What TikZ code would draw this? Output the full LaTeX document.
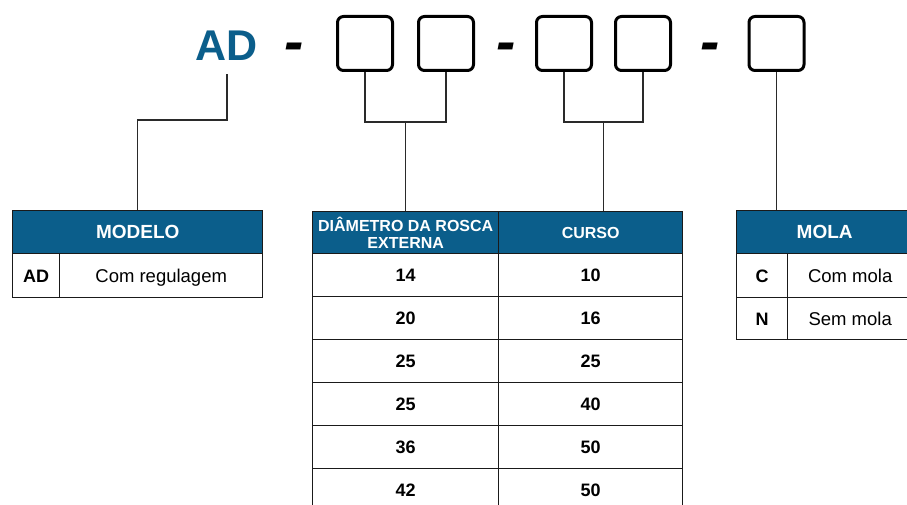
\documentclass[tikz,border=0pt]{standalone}
\usepackage{fontspec}
\setmainfont{Liberation Sans}
\usetikzlibrary{calc}
\definecolor{hblue}{HTML}{0B5E8B}
\definecolor{tline}{HTML}{1A1A1A}
\definecolor{cline}{HTML}{2A2A2A}
\tikzset{
  codebox/.style={draw=black, line width=3pt, rounded corners=6pt, minimum width=55pt, minimum height=54pt, inner sep=0},
  sep/.style={font=\fontsize{58}{58}\selectfont\bfseries\itshape, anchor=base, inner sep=0},
  conn/.style={draw=cline, line width=1.3pt},
  hcell/.style={draw=tline, line width=1.4pt, fill=hblue, text=white, anchor=north west, inner sep=0, font=\fontsize{19}{19}\selectfont\bfseries, align=center},
  bcell/.style={draw=tline, line width=1.4pt, fill=white, text=black, anchor=north west, inner sep=0, text height=13.4pt, text depth=0pt, font=\fontsize{18.5}{18.5}\selectfont},
  ncell/.style={bcell, text height=12.9pt, font=\fontsize{18}{18}\selectfont\bfseries}
}
\begin{document}
\begin{tikzpicture}[x=1pt,y=-1pt]
\clip (0,0) rectangle (907,505);
\fill[white] (0,0) rectangle (907,505);
% code line
\node[font=\fontsize{43}{43}\selectfont\bfseries, text=hblue, anchor=base, inner xsep=0, inner ysep=13pt] (ad) at (227,61) {AD};
\node[sep] (d1) at (294,62) {-};
\node[sep] (d2) at (506,62) {-};
\node[sep] (d3) at (710,62) {-};
\node[codebox] (b1) at (365,43.5) {};
\node[codebox] (b2) at (446,43.5) {};
\node[codebox] (b3) at (564,43.5) {};
\node[codebox] (b4) at (643,43.5) {};
\node[codebox] (b5) at (776.5,43.5) {};
\coordinate (j0) at (0,120);
\coordinate (j1) at (0,122);
% MODELO table
\node[hcell, minimum width=250pt, minimum height=43pt] (mh) at (12,210) {MODELO};
\node[ncell, minimum width=47pt, minimum height=44pt] (ma) at (12,253) {AD};
\node[bcell, minimum width=203pt, minimum height=44pt] (mb) at (59,253) {Com regulagem};
% middle table
\node[hcell, minimum width=186pt, minimum height=42pt, font=\fontsize{16}{16.5}\selectfont\bfseries] (dh) at (312,211) {DIÂMETRO DA ROSCA\\EXTERNA};
\node[hcell, minimum width=184pt, minimum height=42pt, font=\fontsize{16}{16.5}\selectfont\bfseries] (cu) at (498,211) {CURSO};
\foreach \a/\b [count=\i from 0] in {14/10,20/16,25/25,25/40,36/50,42/50} {
  \node[ncell, minimum width=186pt, minimum height=43pt] (r\i a) at (312,{253+43*\i}) {\a};
  \node[ncell, minimum width=184pt, minimum height=43pt] (r\i b) at (498,{253+43*\i}) {\b};
}
% MOLA table
\node[hcell, minimum width=176pt, minimum height=43pt] (lh) at (736,210) {MOLA};
\node[ncell, minimum width=51pt, minimum height=44pt] (la) at (736,253) {C};
\node[bcell, minimum width=125pt, minimum height=44pt] (lb) at (787,253) {Com mola};
\node[ncell, minimum width=51pt, minimum height=42pt] (lc) at (736,297) {N};
\node[bcell, minimum width=125pt, minimum height=42pt] (ld) at (787,297) {Sem mola};
% connectors
\draw[conn] (ad.south) -- (ad.south |- j0) -- (mh.north |- j0) -- (mh.north);
\draw[conn] (b1.south) -- (b1.south |- j1) -- (b2.south |- j1) -- (b2.south);
\coordinate (m1) at ($(b1.south |- j1)!.5!(b2.south |- j1)$);
\draw[conn] (m1) -- (m1 |- dh.north);
\draw[conn] (b3.south) -- (b3.south |- j1) -- (b4.south |- j1) -- (b4.south);
\coordinate (m2) at ($(b3.south |- j1)!.5!(b4.south |- j1)$);
\draw[conn] (m2) -- (m2 |- cu.north);
\draw[conn] (b5.south) -- (b5.south |- lh.north);
\end{tikzpicture}
\end{document}
